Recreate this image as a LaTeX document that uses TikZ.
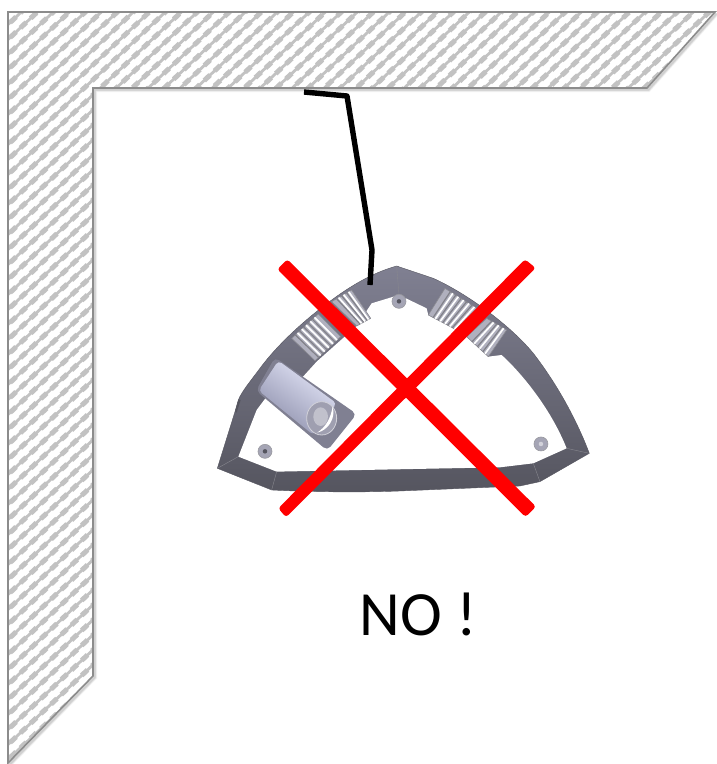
\documentclass[tikz,border=0pt]{standalone}
\usepackage{fontspec}
\setmainfont{Carlito}
\usetikzlibrary{calc}
\definecolor{wallhatch}{HTML}{C2C2C2}
\definecolor{walledge}{HTML}{8C8C8C}
\definecolor{bodygrey}{HTML}{6E6E80}
\definecolor{bodydark}{HTML}{55555F}
\definecolor{bodylight}{HTML}{8E8EA2}
\definecolor{crossred}{HTML}{FF0000}
\definecolor{cylhigh}{HTML}{E6E8FA}
\definecolor{cyllow}{HTML}{8C8EAA}
\tikzset{
  wallshape/.style={draw=walledge,line width=1.6pt,line join=miter},
  crossbar/.style={fill=crossred,rounded corners=3pt},
  wireline/.style={black,line width=5.4pt,line join=round},
  facet/.style={bodydark!70,line width=0.4pt},
  vent/.style={fill=bodylight!70!white,draw=bodydark!70,line width=0.6pt,line join=round},
  ventslat/.style={white,line width=1.7pt},
  ventgap/.style={bodydark!75,line width=1.2pt},
  screwhole/.style={circle,fill=bodylight!80,draw=bodydark!60,line width=0.6pt,minimum size=14pt,inner sep=0pt},
  screwcore/.style={circle,fill=bodydark,minimum size=4.5pt,inner sep=0pt},
  nolabel/.style={font=\fontsize{63}{66}\selectfont,text=black,inner sep=0pt}
}
\newcommand{\wallpath}{(8,12) -- (715,12) -- (647,88) -- (93,88) -- (93,676) -- (8,763) -- cycle}
\begin{document}
\begin{tikzpicture}[x=1pt,y=-1pt]
\useasboundingbox (0,0) rectangle (716,764);
\fill[white] (0,0) rectangle (716,764);
% soft wall shadow
\foreach \d/\o in {5/0.05,4/0.07,3/0.09,2/0.12}{
  \draw[black!60,opacity=\o,line width=\d pt,shift={(1.5,1.5)}] (715,12) -- (647,88) -- (93,88) -- (93,676) -- (8,763);
}
% wall
\fill[white] \wallpath;
\begin{scope}
  \clip \wallpath;
  \foreach \k in {-2,...,96}{
    \draw[wallhatch,line width=2.8pt] (0,32+15*\k) -- (720,32+15*\k-675);
    \draw[wallhatch,line width=5pt,dash pattern=on 8pt off 6pt] (0,32+15*\k) -- (720,32+15*\k-675);
  }
\end{scope}
\draw[wallshape] \wallpath;
% device, in 3x crop coordinates
\begin{scope}[shift={(200,240)},x=0.3333pt,y=-0.3333pt]
  % outer body
  \path[top color=bodylight!90!black,bottom color=bodydark,draw=bodydark,line width=0.4pt,line join=round]
    (590,78) .. controls (530,95) and (470,125) .. (395,180)
    .. controls (320,235) and (235,310) .. (180,385)
    .. controls (150,425) and (125,455) .. (115,480) -- (105,515) -- (52,685)
    -- (215,750) .. controls (350,757) and (500,757) .. (600,753)
    -- (960,738) -- (1020,725) -- (1168,640)
    .. controls (1140,565) and (1085,450) .. (1000,340)
    .. controls (930,255) and (800,160) .. (700,115) -- cycle;
  \fill[bodydark] (115,480) -- (105,515) -- (110,518) -- (122,480) -- cycle;
  % inner white panel
  \fill[white] (597,165) -- (680,205) -- (685,225) -- (770,270) -- (800,290) -- (865,350) -- (905,345)
    .. controls (960,395) and (1050,500) .. (1100,625)
    -- (1000,670) -- (900,682) -- (230,695) -- (115,650) -- (170,510)
    -- (200,470) -- (300,420) -- (350,365) -- (470,258) -- (515,190) -- cycle;
  % facet lines
  \draw[facet] (590,78) -- (597,165);
  \draw[facet] (52,685) -- (115,650);
  \draw[facet] (215,750) -- (230,695);
  \draw[facet] (1168,640) -- (1100,625);
  \draw[facet] (1020,725) -- (1000,670);
  % vents
  \path[vent] (395,185) -- (455,150) -- (512,235) -- (470,258) -- cycle;
  \foreach \t in {0.25,0.5,0.75}{
    \draw[ventgap] ($(395,185)!\t!(455,150)$) -- ($(470,258)!\t!(512,235)$);
    \draw[ventslat] ($(395,185)!\t+0.1!(455,150)$) -- ($(470,258)!\t+0.1!(512,235)$);
  }
  \path[vent] (275,295) -- (355,222) -- (422,290) -- (345,362) -- cycle;
  \foreach \t in {0.14,0.3,0.46,0.62,0.78}{
    \draw[ventgap] ($(275,295)!\t!(355,222)$) -- ($(345,362)!\t!(422,290)$);
    \draw[ventslat] ($(275,295)!\t+0.08!(355,222)$) -- ($(345,362)!\t+0.08!(422,290)$);
  }
  \path[vent] (735,145) -- (830,205) -- (770,270) -- (685,225) -- cycle;
  \foreach \t in {0.17,0.34,0.51,0.68,0.85}{
    \draw[ventgap] ($(735,145)!\t!(830,205)$) -- ($(685,225)!\t!(770,270)$);
    \draw[ventslat] ($(735,145)!\t+0.08!(830,205)$) -- ($(685,225)!\t+0.08!(770,270)$);
  }
  \path[vent] (860,235) -- (920,270) -- (865,350) -- (800,290) -- cycle;
  \foreach \t in {0.25,0.5,0.75}{
    \draw[ventgap] ($(860,235)!\t!(920,270)$) -- ($(800,290)!\t!(865,350)$);
    \draw[ventslat] ($(860,235)!\t+0.1!(920,270)$) -- ($(800,290)!\t+0.1!(865,350)$);
  }
  % cylinder housing
  \fill[bodylight!90!black,rounded corners=5pt] (225,352) -- (470,522) -- (382,632) -- (168,452) -- cycle;
  % cylinder body
  \path[top color=cylhigh,bottom color=cyllow,shading angle=-36,rounded corners=4pt]
    (235,362) -- (410,490) -- (340,585) -- (176,452) -- cycle;
  % cylinder end
  \fill[bodylight!85] (365,535) ellipse [x radius=45,y radius=50];
  \draw[bodylight!40,line width=0.8pt] (365,535) ellipse [x radius=45,y radius=50];
  \fill[white] (398,500) .. controls (408,535) and (385,570) .. (352,578)
    .. controls (378,560) and (392,535) .. (398,500) -- cycle;
  \fill[bodylight!55] (362,530) ellipse [x radius=22,y radius=28];
  % screws
  \node[screwhole] (screwtop) at (597,184) {};
  \node[screwcore] at (597,184) {};
  \node[screwhole] (screwleft) at (195,634) {};
  \node[screwcore] at (195,634) {};
  \node[screwhole] (screwright) at (1023,612) {};
  \node[screwcore,fill=bodylight!40] at (1023,612) {};
\end{scope}
% hanging wire
\coordinate (wirestart) at (304,92);
\coordinate (wirebendA) at (347,96);
\coordinate (wirebendB) at (372,250);
\coordinate (wireend) at (370,285);
\draw[wireline] (wirestart) -- (wirebendA) -- (wirebendB) -- (wireend);
% red cross
\fill[crossbar] (277.3,269.3) -- (287.3,259.3) -- (536,506.7) -- (525.5,517) -- cycle;
\fill[crossbar] (525,259.3) -- (535.7,268) -- (286,517.3) -- (278.3,508.3) -- cycle;
% label
\node[nolabel] (nolabeltext) at (418,614) {NO !};
\end{tikzpicture}
\end{document}
